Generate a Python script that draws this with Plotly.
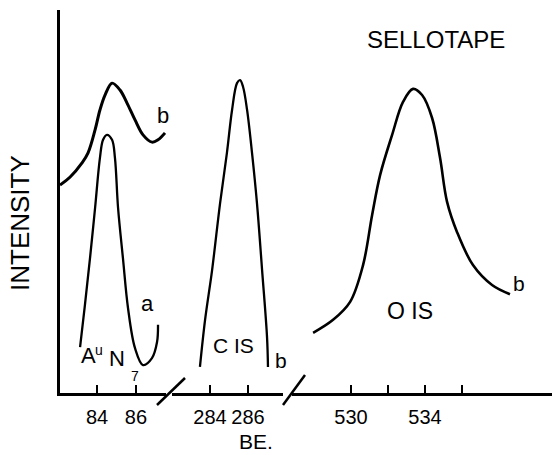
import plotly.graph_objects as go

# ---- data (binding energy in eV, intensity in arbitrary units 0-100) ----
au_b_be = [82.10, 82.62, 83.23, 83.54, 83.90, 84.15, 84.41, 84.77, 85.18, 85.54, 85.95, 86.36, 86.82, 87.13, 87.49]
au_b_int = [54.3, 56.4, 60.1, 62.7, 68.7, 73.9, 77.8, 80.9, 79.1, 75.7, 71.3, 67.4, 65.5, 66.1, 67.9]

au_a_be = [83.13, 83.38, 83.64, 83.90, 84.15, 84.31, 84.51, 84.77, 84.92, 85.08, 85.33, 85.59, 85.95, 86.36, 86.82, 87.08, 87.13]
au_a_int = [12.0, 23.0, 35.2, 48.3, 61.4, 66.1, 67.4, 66.1, 61.4, 48.3, 35.2, 22.2, 11.7, 7.3, 9.1, 13.3, 17.8]

c1s_be = [283.47, 283.74, 284.11, 284.53, 284.89, 285.16, 285.42, 285.58, 285.74, 285.95, 286.21, 286.47, 286.74, 287.00, 287.05]
c1s_int = [6.8, 19.1, 32.1, 49.6, 62.7, 73.9, 80.9, 81.7, 79.9, 73.9, 62.7, 49.6, 32.1, 14.6, 6.8]

o1s_be = [527.95, 529.03, 529.95, 530.65, 531.14, 531.57, 532.22, 532.81, 533.35, 533.84, 534.38, 534.81, 535.19, 535.73, 536.59, 537.62, 538.59]
o1s_int = [15.7, 19.1, 23.8, 33.4, 46.5, 56.9, 67.4, 76.0, 79.4, 77.8, 71.8, 61.4, 49.9, 42.0, 33.4, 28.2, 25.8]

seg1_ticks = [84, 86]
seg1_labels = ["84", "86"]
seg2_ticks = [284, 286]
seg2_labels = ["284", "286"]
seg3_ticks = [530, 532, 534, 536]
seg3_labels = ["530", "", "534", ""]

FONT = "Liberation Sans"
W, H = 552, 455
ML, MR, MT, MB = 60, 0, 10, 62
PW, PH = W - ML - MR, H - MT - MB


def P(px, py):
    return (px - ML) / PW, (H - MB - py) / PH


fig = go.Figure()
line = dict(color="black", shape="spline", smoothing=1.0)
fig.add_trace(go.Scatter(x=au_b_be, y=au_b_int, xaxis="x", yaxis="y", mode="lines",
                         line=dict(line, width=3)))
fig.add_trace(go.Scatter(x=au_a_be, y=au_a_int, xaxis="x", yaxis="y", mode="lines",
                         line=dict(line, width=2.3)))
fig.add_trace(go.Scatter(x=c1s_be, y=c1s_int, xaxis="x2", yaxis="y", mode="lines",
                         line=dict(line, width=2.3)))
fig.add_trace(go.Scatter(x=o1s_be, y=o1s_int, xaxis="x3", yaxis="y", mode="lines",
                         line=dict(line, width=2.6)))

xcommon = dict(ticks="inside", ticklen=8, tickwidth=1.5, tickcolor="black",
               showline=True, linewidth=2.5, linecolor="black", showgrid=False,
               zeroline=False, anchor="y", tickfont=dict(family=FONT, size=20, color="black"),
               ticklabelstandoff=4, fixedrange=True)

fig.update_layout(
    width=W, height=H,
    margin=dict(l=ML, r=MR, t=MT, b=MB),
    paper_bgcolor="white", plot_bgcolor="white",
    showlegend=False,
    xaxis=dict(xcommon, domain=[0, P(166, 0)[0]], range=[82.10, 87.54],
               tickvals=seg1_ticks, ticktext=seg1_labels),
    xaxis2=dict(xcommon, domain=[P(172, 0)[0], P(283, 0)[0]], range=[282.0, 287.84],
                tickvals=seg2_ticks, ticktext=seg2_labels),
    xaxis3=dict(xcommon, domain=[P(292, 0)[0], 1.0], range=[526.81, 540.86],
                tickvals=seg3_ticks, ticktext=seg3_labels),
    yaxis=dict(range=[0, 100], showline=True, linewidth=2.5, linecolor="black",
               showticklabels=False, ticks="", showgrid=False, zeroline=False,
               anchor="x", fixedrange=True),
)

# axis break marks
for (x0, y0, x1, y1) in [(157, 405, 185, 378), (283, 405, 305, 375)]:
    a0 = P(x0, y0)
    a1 = P(x1, y1)
    fig.add_shape(type="line", xref="paper", yref="paper", x0=a0[0], y0=a0[1],
                  x1=a1[0], y1=a1[1], line=dict(color="black", width=2.5))

labels = [
    ("SELLOTAPE", 436, 40, 24, 0),
    ("b", 163, 115, 22, 0),
    ("a", 147, 303, 22, 0),
    ("A", 88, 355, 22, 0),
    ("u", 99, 350, 14, 0),
    ("N", 117, 358, 22, 0),
    ("7", 135, 376, 14, 0),
    ("C IS", 233, 345, 21, 0),
    ("b", 281, 360, 21, 0),
    ("O IS", 410, 311, 23, 0),
    ("b", 519, 283, 21, 0),
    ("BE.", 256, 441, 21, 0),
    ("INTENSITY", 20, 223, 26, -90),
]
for text, px, py, size, ang in labels:
    x, y = P(px, py)
    fig.add_annotation(text=text, x=x, y=y, xref="paper", yref="paper",
                       showarrow=False, xanchor="center", yanchor="middle",
                       borderpad=0, textangle=ang,
                       font=dict(family=FONT, size=size, color="black"))

fig.write_html("out.html")
